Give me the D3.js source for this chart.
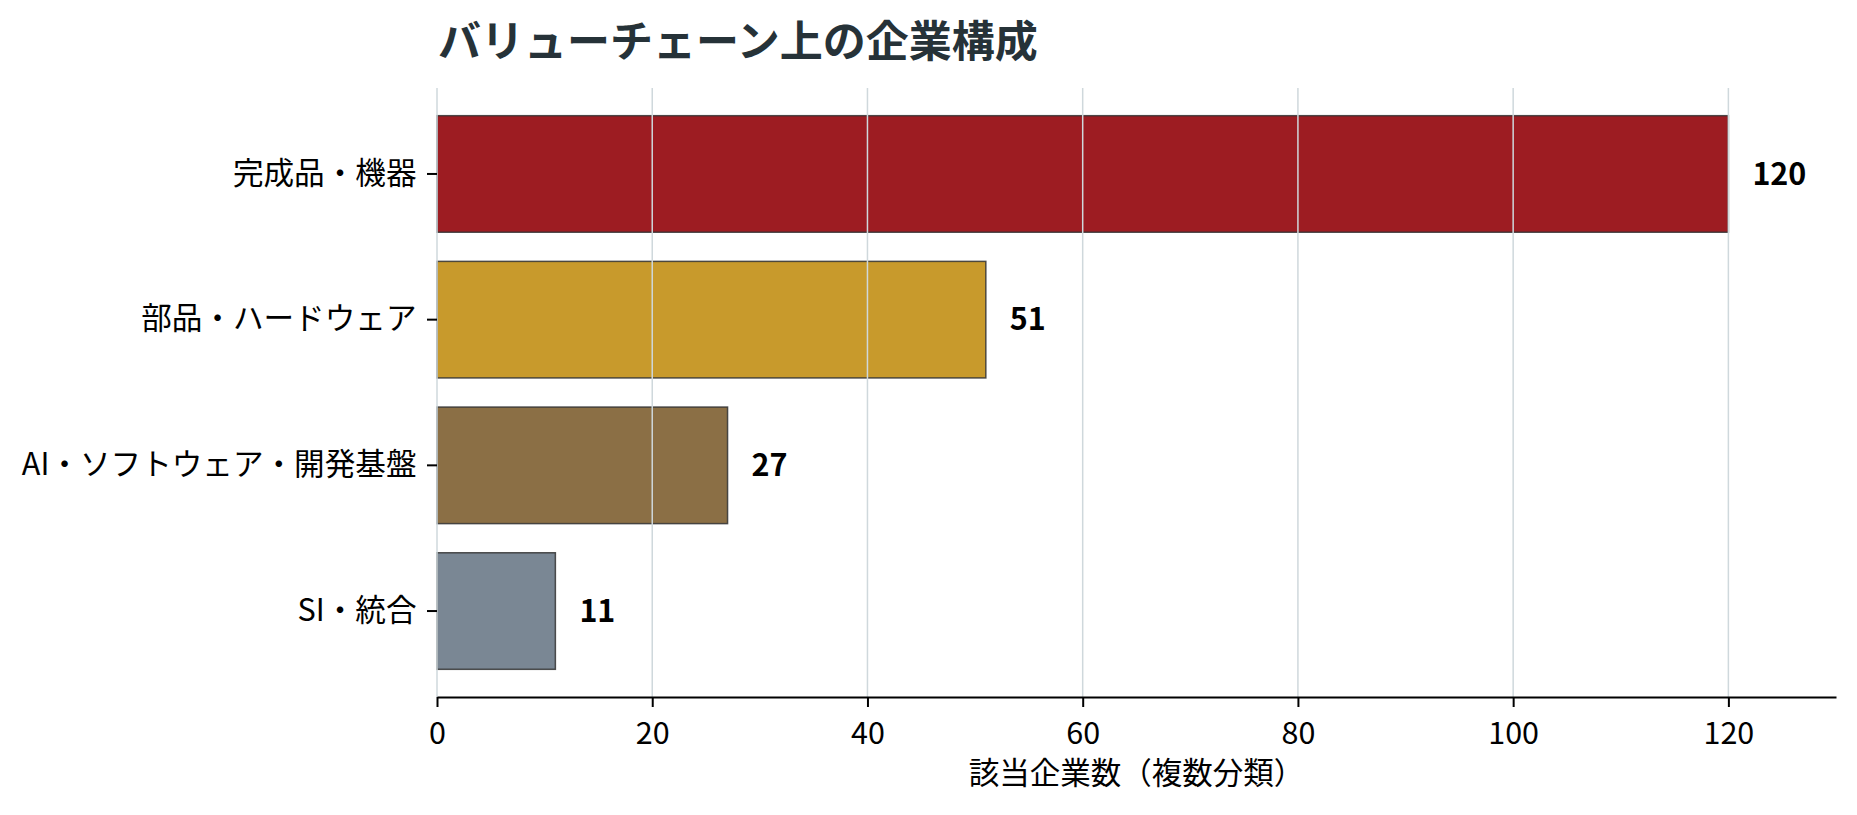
<!DOCTYPE html>
<html lang="ja">
  <head>
    <meta charset="utf-8">
    <title>バリューチェーン上の企業構成</title>
    <script src="https://cdn.jsdelivr.net/npm/d3@7"></script>
    <style>
      body { margin: 0; background: #fff; }
      svg text { font-family: "Noto Sans CJK JP", "Noto Sans", sans-serif; }
    </style>
  </head>
  <body>
    <script>
      // data
      var categories = ["完成品・機器", "部品・ハードウェア", "AI・ソフトウェア・開発基盤", "SI・統合"];
      var counts = [120, 51, 27, 11];
      var barColors = ["#9d1c22", "#c89a2c", "#8b6f45", "#7a8794"];
      var xTicks = [0, 20, 40, 60, 80, 100, 120];
      var titleText = "バリューチェーン上の企業構成";
      var xLabel = "該当企業数（複数分類）";

      var W = 1857, H = 815;
      var margin = {top: 88, right: 21, bottom: 118, left: 437};

      var data = categories.map(function(c, i) {
        return {cat: c, value: counts[i], color: barColors[i]};
      });

      var svg = d3.select("body")
                  .append("svg")
                  .attr("width", W)
                  .attr("height", H);

      var x = d3.scaleLinear()
                .domain([0, 130])
                .range([margin.left, W - margin.right]);

      var y = d3.scaleBand()
                .domain(categories)
                .range([margin.top, H - margin.bottom])
                .paddingInner(0.2)
                .paddingOuter(0.19);

      // bars
      svg.append("g")
         .selectAll("rect")
         .data(data)
         .enter()
         .append("rect")
           .attr("x", x(0))
           .attr("y", d => y(d.cat))
           .attr("width", d => x(d.value) - x(0))
           .attr("height", y.bandwidth())
           .attr("fill", d => d.color)
           .attr("stroke", "#333")
           .attr("stroke-opacity", 0.85)
           .attr("stroke-width", 1.5);

      // vertical grid (drawn over the bars, like the reference)
      svg.append("g")
         .selectAll("line")
         .data(xTicks)
         .enter()
         .append("line")
           .attr("x1", d => x(d))
           .attr("x2", d => x(d))
           .attr("y1", margin.top)
           .attr("y2", H - margin.bottom)
           .attr("stroke", "#cfd8dc")
           .attr("stroke-width", 1.5);

      // x axis
      var xAxis = svg.append("g")
         .attr("transform", "translate(0," + (H - margin.bottom) + ")")
         .call(d3.axisBottom(x).tickValues(xTicks).tickSize(10).tickPadding(15).tickSizeOuter(0));
      xAxis.select(".domain").attr("stroke", "#000").attr("stroke-width", 2);
      xAxis.selectAll(".tick line").attr("stroke", "#000").attr("stroke-width", 2);
      xAxis.selectAll(".tick text")
           .attr("font-family", "Noto Sans CJK JP")
           .attr("font-size", 30.5)
           .attr("fill", "#000");

      // y axis (spine hidden, ticks kept)
      var yAxis = svg.append("g")
         .attr("transform", "translate(" + x(0) + ",0)")
         .call(d3.axisLeft(y).tickSize(10).tickPadding(10.5));
      yAxis.select(".domain").remove();
      yAxis.selectAll(".tick line").attr("stroke", "#000").attr("stroke-width", 2);
      yAxis.selectAll(".tick text")
           .attr("font-family", "Noto Sans CJK JP")
           .attr("font-size", 30.6)
           .attr("fill", "#000");

      // value labels
      svg.append("g")
         .selectAll("text")
         .data(data)
         .enter()
         .append("text")
           .attr("x", d => x(d.value) + 24)
           .attr("y", d => y(d.cat) + y.bandwidth() / 2)
           .attr("dy", "0.35em")
           .attr("font-size", 30.5)
           .attr("font-weight", "bold")
           .attr("fill", "#000")
           .text(d => d.value);

      // title
      svg.append("text")
         .attr("x", margin.left + 1)
         .attr("y", 57)
         .attr("font-size", 43)
         .attr("font-weight", "bold")
         .attr("fill", "#263238")
         .text(titleText);

      // x label
      svg.append("text")
         .attr("x", (x.range()[0] + x.range()[1]) / 2)
         .attr("y", 784)
         .attr("text-anchor", "middle")
         .attr("font-size", 30.5)
         .attr("fill", "#000")
         .text(xLabel);
    </script>
  </body>
</html>
